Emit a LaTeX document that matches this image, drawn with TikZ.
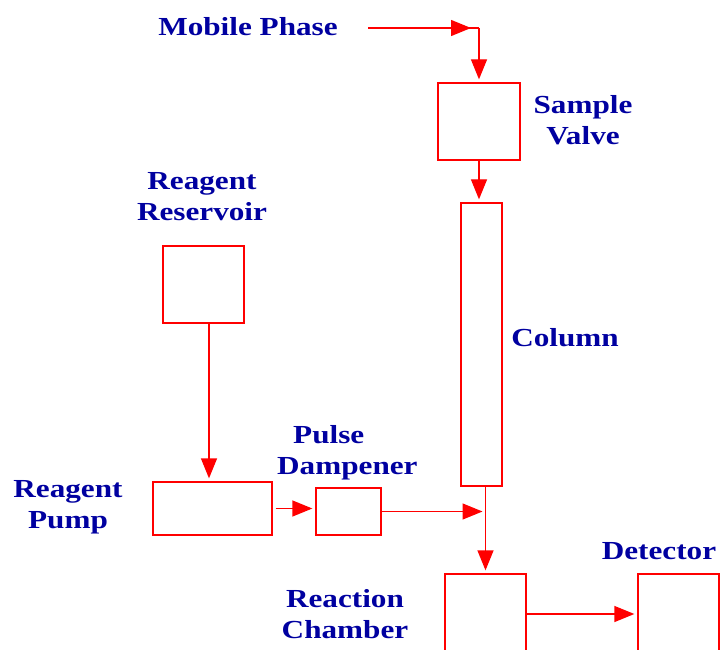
\documentclass[tikz,border=0pt]{standalone}
\usepackage{fontspec}
\setmainfont[FakeStretch=1.2]{Liberation Serif}
\usetikzlibrary{arrows.meta}
\definecolor{lblue}{RGB}{0,0,160}
\definecolor{pred}{RGB}{255,0,0}
\tikzset{
  unitbox/.style={draw=pred, line width=1.3pt, fill=white, inner sep=0pt},
  lbl/.style={text=lblue, font=\fontsize{26}{31}\selectfont\bfseries, inner sep=0pt, align=center, anchor=base},
  flow/.style={draw=pred, line width=1.3pt, -{Triangle[length=20pt,width=16pt]}, shorten >=3pt},
  pipe/.style={draw=pred, line width=1.3pt},
}
\begin{document}
\begin{tikzpicture}[x=1pt,y=-1pt]
\useasboundingbox (0,0) rectangle (721,650);
\clip (0,0) rectangle (721,650);
% boxes
\node[unitbox, minimum width=82pt, minimum height=77pt] (valve) at (479,121.5) {};
\node[unitbox, minimum width=41pt, minimum height=283pt] (column) at (481.5,344.5) {};
\node[unitbox, minimum width=81pt, minimum height=77pt] (reservoir) at (203.5,284.5) {};
\node[unitbox, minimum width=119pt, minimum height=53pt] (pump) at (212.5,508.5) {};
\node[unitbox, minimum width=65pt, minimum height=47pt] (damp) at (348.5,511.5) {};
\node[unitbox, minimum width=81pt, minimum height=80pt] (chamber) at (485.5,614) {};
\node[unitbox, minimum width=81pt, minimum height=80pt] (detector) at (678.5,614) {};
% labels
\node[lbl] (lmobile) at (248,36) {Mobile Phase};
\node[lbl] (lvalve) at (583,145) {Sample\\Valve};
\node[lbl] (lres) at (202,221) {Reagent\\Reservoir};
\node[lbl] (lcol) at (565,346) {Column};
\node[lbl, align=left, anchor=base west] (ldamp) at (277,474) {\hspace*{16pt}Pulse\\Dampener};
\node[lbl] (lpump) at (68,528) {Reagent\\Pump};
\node[lbl] (lchamber) at (345,638) {Reaction\\Chamber};
\node[lbl] (ldet) at (659,559) {Detector};
% connectors
\coordinate (mpstart) at (368,28);
\coordinate (mpcorner) at (479,28);
\coordinate (junction) at (485.5,511.5);
\draw[pipe] (mpstart) -- (mpcorner);
\draw[flow, shorten >=8pt] (mpstart) -- (mpcorner);
\draw[flow] (mpcorner) -- (valve.north);
\draw[flow] (valve.south) -- (valve.south |- column.north);
\draw[flow] ([xshift=5.5pt]reservoir.south) -- ([xshift=5.5pt]reservoir.south |- pump.north);
\draw[flow] ([xshift=3pt]pump.east) -- (pump.east -| damp.west);
\draw[flow] (damp.east) -- (junction);
\draw[pipe] (column.south -| junction) -- (junction);
\draw[flow] (junction) -- (chamber.north);
\draw[flow] (chamber.east) -- (chamber.east -| detector.west);
\end{tikzpicture}
\end{document}
